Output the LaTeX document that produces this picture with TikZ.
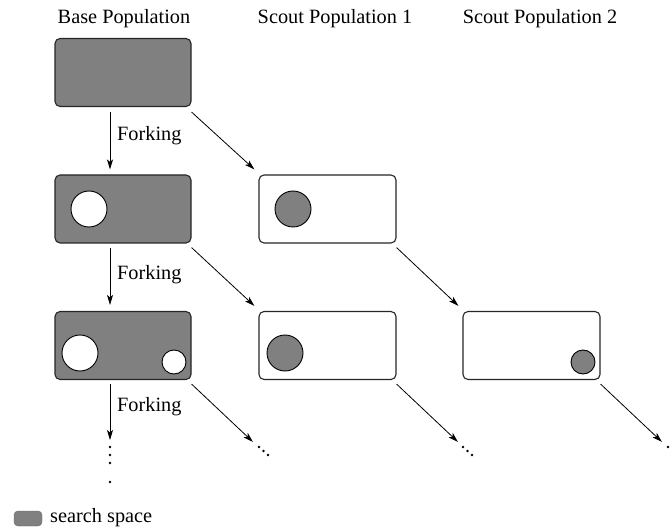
\documentclass[tikz,border=0pt]{standalone}
\usepackage{fontspec}
\setmainfont{Liberation Serif}
\usetikzlibrary{arrows.meta,calc}
\definecolor{fillgray}{gray}{0.5}
\definecolor{edgegray}{gray}{0.15}
\begin{document}
\begin{tikzpicture}[x=1pt,y=-1pt,
  lbl/.style={font=\fontsize{20.3}{24}\selectfont, inner sep=0pt},
  basebox/.style={draw=edgegray, line width=1.1pt, fill=fillgray, rounded corners=5pt, minimum width=136pt, minimum height=68pt, inner sep=0pt},
  scoutbox/.style={draw=edgegray, line width=1.1pt, fill=white, rounded corners=5pt, minimum width=137pt, minimum height=68pt, inner sep=0pt},
  hole/.style={circle, draw=black, line width=0.9pt, fill=white, inner sep=0pt},
  spot/.style={circle, draw=black, line width=0.9pt, fill=fillgray, inner sep=0pt},
  arr/.style={line width=0.8pt, -{Stealth[length=10pt,width=6pt,inset=2.5pt]}},
  dotm/.style={circle, fill=black, inner sep=0pt, minimum size=2.6pt}
]
\useasboundingbox (0,0) rectangle (672,529);

% headers
\node[lbl] (h0) at (124,19) {Base Population};
\node[lbl] (h1) at (335,19) {Scout Population 1};
\node[lbl] (h2) at (540,19) {Scout Population 2};

% boxes
\node[basebox] (b1) at (123,72.5) {};
\node[basebox] (b2) at (123,209) {};
\node[basebox] (b3) at (123,345.5) {};
\node[scoutbox] (s12) at (327.5,209) {};
\node[scoutbox] (s13) at (327.5,345.5) {};
\node[scoutbox] (s23) at (531.5,345.5) {};

% circles
\node[hole, minimum size=36pt] (c21) at (89,209) {};
\node[hole, minimum size=36pt] (c31) at (80,353) {};
\node[hole, minimum size=24pt] (c32) at (174,362) {};
\node[spot, minimum size=36pt] (d12) at (293,209) {};
\node[spot, minimum size=36pt] (d13) at (285,353) {};
\node[spot, minimum size=24pt] (d23) at (583,362) {};

% forking arrows
\draw[arr] ([xshift=-13pt,yshift=-5pt]b1.south) -- ([xshift=-13pt,yshift=5pt]b2.north);
\draw[arr] ([xshift=-13pt,yshift=-4pt]b2.south) -- ([xshift=-13pt,yshift=6pt]b3.north);
\coordinate (e3) at (110,440);
\draw[arr] ([xshift=-13pt,yshift=-4pt]b3.south) -- (e3);
\node[lbl, anchor=west] (f1) at (117,136) {Forking};
\node[lbl, anchor=west] (f2) at (117,275) {Forking};
\node[lbl, anchor=west] (f3) at (117,407) {Forking};

% scout arrows
\draw[arr] ([yshift=-5pt]b1.south east) -- ([xshift=-4pt,yshift=5pt]s12.north west);
\draw[arr] ([yshift=-4pt]b2.south east) -- ([xshift=-4pt,yshift=5pt]s13.north west);
\draw[arr] ([yshift=-4pt]s12.south east) -- ([xshift=-4pt,yshift=5pt]s23.north west);
\coordinate (t3) at (253,442);
\coordinate (t13) at (458,442);
\coordinate (t23) at (662,442);
\draw[arr] ([yshift=-4pt]b3.south east) -- (t3);
\draw[arr] ([yshift=-4pt]s13.south east) -- (t13);
\draw[arr] ([yshift=-4pt]s23.south east) -- (t23);

% continuation dots
\node[dotm] (v1) at (110,447) {};
\node[dotm] (v2) at (110,455) {};
\node[dotm] (v3) at (110,463) {};
\node[dotm] (v4) at (110,482) {};
\node[dotm] (p1) at (259,447) {};
\node[dotm] (p2) at (263.5,451) {};
\node[dotm] (p3) at (268,455) {};
\node[dotm] (q1) at (463,447) {};
\node[dotm] (q2) at (467.5,451) {};
\node[dotm] (q3) at (472,455) {};
\node[dotm] (r1) at (668,447) {};

% legend
\node[fill=fillgray, draw=fillgray!80!black, line width=0.4pt, rounded corners=4pt, minimum width=28pt, minimum height=15pt, inner sep=0pt] (leg) at (28,518.5) {};
\node[lbl, anchor=west] (legt) at (50,518) {search space};
\end{tikzpicture}
\end{document}
